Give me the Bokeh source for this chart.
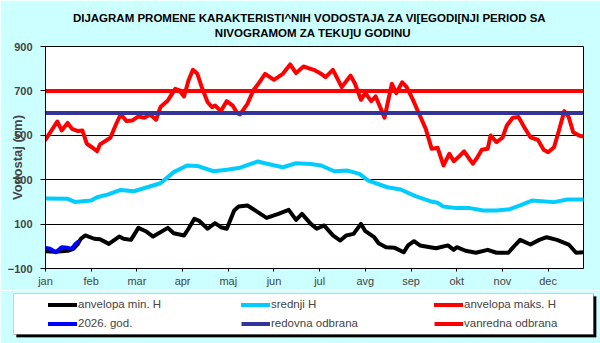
from bokeh.plotting import figure
from bokeh.layouts import column
from bokeh.models import FixedTicker, Legend, LegendItem, Range1d, LinearAxis, BoxAnnotation
from bokeh.embed import file_html
from bokeh.resources import INLINE

# ---- data (day of year, value in cm) ----
months = ["jan", "feb", "mar", "apr", "maj", "jun", "jul", "avg", "sep", "okt", "nov", "dec"]
month_ticks = [0, 31, 62, 93, 124, 155, 186, 217, 248, 279, 310, 341]
y_ticks = [-100, 100, 300, 500, 700, 900]

min_days = [0, 7, 15, 19, 22, 24, 27, 33, 37, 43,
            50, 53, 58, 63, 68, 73, 83, 87, 94, 97,
            101, 104, 110, 115, 119, 123, 128, 131, 137, 144,
            150, 158, 165, 170, 174, 180, 184, 189, 195, 200,
            204, 209, 214, 217, 223, 226, 231, 237, 243, 246,
            250, 254, 265, 273, 277, 279, 285, 292, 300, 306,
            314, 319, 322, 329, 335, 340, 347, 355, 360, 365]
min_vals = [-22, -25, -20, -11, 11, 34, 49, 34, 32, 11,
            44, 34, 29, 83, 68, 44, 83, 59, 49, 79,
            124, 116, 79, 104, 86, 79, 161, 179, 184, 154,
            128, 146, 164, 119, 146, 101, 79, 94, 49, 26,
            49, 56, 101, 68, 41, 14, -4, -7, -27, 4,
            23, 4, -9, 4, -16, -4, -20, -29, -16, -29,
            -29, 8, 29, 8, 29, 41, 29, 8, -29, -27]

mean_days = [0, 15, 20, 31, 35, 42, 51, 60, 69, 78,
             87, 96, 103, 114, 123, 132, 144, 151, 161, 170,
             180, 187, 196, 205, 213, 219, 232, 241, 251, 261,
             266, 270, 279, 288, 297, 306, 315, 322, 330, 345,
             354, 365]
mean_vals = [215, 214, 200, 206, 221, 233, 254, 248, 266, 284,
             334, 364, 362, 338, 345, 354, 382, 371, 356, 374,
             371, 364, 338, 341, 326, 296, 266, 256, 226, 203,
             196, 179, 172, 172, 161, 161, 167, 184, 206, 199,
             211, 211]

max_days = [0, 8, 11, 15, 18, 22, 25, 28, 32, 35,
            37, 44, 48, 51, 55, 59, 63, 67, 71, 75,
            78, 83, 88, 91, 94, 97, 100, 103, 106, 110,
            113, 115, 119, 123, 127, 130, 132, 137, 141, 146,
            149, 155, 161, 166, 170, 175, 182, 187, 190, 195,
            201, 207, 210, 214, 217, 221, 224, 227, 230, 233,
            235, 238, 242, 245, 249, 253, 258, 262, 266, 270,
            274, 277, 280, 284, 287, 290, 293, 296, 300, 302,
            306, 310, 313, 317, 321, 325, 329, 334, 338, 341,
            345, 348, 352, 355, 358, 362, 365]
max_vals = [480, 562, 522, 556, 529, 519, 522, 462, 444, 428,
            459, 489, 552, 594, 564, 567, 585, 579, 594, 570,
            627, 657, 709, 702, 675, 747, 795, 777, 717, 649,
            627, 634, 609, 654, 634, 600, 594, 642, 702, 747,
            777, 750, 777, 819, 780, 810, 795, 777, 762, 795,
            717, 769, 732, 660, 690, 654, 675, 627, 579, 672,
            732, 690, 739, 717, 664, 604, 529, 439, 444, 364,
            417, 383, 401, 428, 399, 372, 401, 435, 439, 499,
            469, 489, 544, 579, 582, 534, 491, 480, 435, 424,
            446, 514, 609, 582, 514, 499, 494]

cur_days = [0, 3, 7, 11, 15, 18, 20, 22]
cur_vals = [-7, -11, -27, -4, -7, -11, 8, 20]

year_span = [0, 365]
redovna = 600
vanredna = 700

series_labels = ["anvelopa min. H", "srednji H", "anvelopa maks. H",
                 "2026. god.", "redovna odbrana", "vanredna odbrana"]
series_colors = ["black", "#00CCFF", "#FF0000", "#0000FF", "#333399", "#FF0000"]

title_line1 = "DIJAGRAM PROMENE  KARAKTERISTI^NIH  VODOSTAJA ZA VI[EGODI[NJI PERIOD  SA"
title_line2 = "NIVOGRAMOM ZA TEKU]U  GODINU"

FONT = "Liberation Sans"
BG = "#CCFFFF"
lw = 4


def add_series(fig):
    rs = []
    rs.append(fig.line(min_days, min_vals, line_color=series_colors[0], line_width=lw, line_join="round", line_cap="round"))
    rs.append(fig.line(mean_days, mean_vals, line_color=series_colors[1], line_width=lw, line_join="round", line_cap="round"))
    rs.append(fig.line(max_days, max_vals, line_color=series_colors[2], line_width=lw, line_join="round", line_cap="round"))
    rs.append(fig.line(cur_days, cur_vals, line_color=series_colors[3], line_width=lw, line_join="round", line_cap="round"))
    rs.append(fig.line(year_span, [redovna, redovna], line_color=series_colors[4], line_width=lw))
    rs.append(fig.line(year_span, [vanredna, vanredna], line_color=series_colors[5], line_width=lw))
    return rs


# ---------------- main chart ----------------
p = figure(width=600, height=290, output_backend="svg", toolbar_location=None,
           x_range=Range1d(0, 365), y_range=Range1d(-100, 900),
           min_border_left=45, min_border_right=17, min_border_top=46, min_border_bottom=22,
           background_fill_color="white", border_fill_color=BG,
           outline_line_color="black", outline_line_width=1)

xax = p.below[0]
yax = p.left[0]

# title: line 2 as the label of an empty top axis, line 1 as the plot title
top_axis = LinearAxis(ticker=FixedTicker(ticks=[]), axis_line_color=None,
                      major_tick_line_color=None, minor_tick_line_color=None,
                      major_tick_out=0, major_tick_in=0,
                      axis_label=title_line2, axis_label_standoff=8,
                      axis_label_text_font=FONT, axis_label_text_font_size="11.5px",
                      axis_label_text_font_style="bold", axis_label_text_color="black")
p.add_layout(top_axis, "above")

p.title.text = title_line1
p.title.align = "center"
p.title.standoff = 0
p.title.text_font = FONT
p.title.text_font_size = "11.5px"
p.title.text_font_style = "bold"
p.title.text_color = "black"

xax.ticker = FixedTicker(ticks=month_ticks)
xax.major_label_overrides = {t: m for t, m in zip(month_ticks, months)}
xax.major_label_text_font = FONT
xax.major_label_text_font_size = "11px"
xax.major_label_standoff = 3
xax.major_tick_out = 3
xax.major_tick_in = 0
xax.minor_tick_line_color = None
xax.axis_line_color = "black"

yax.ticker = FixedTicker(ticks=y_ticks)
yax.major_label_text_font = FONT
yax.major_label_text_font_size = "11px"
yax.major_label_text_font_style = "bold"
yax.major_label_standoff = 8
yax.major_tick_out = 5
yax.major_tick_in = 0
yax.minor_tick_line_color = None
yax.axis_line_color = "black"
yax.axis_label = "Vodostaj (cm)"
yax.axis_label_text_font = FONT
yax.axis_label_text_font_size = "13px"
yax.axis_label_text_font_style = "bold"
yax.axis_label_standoff = -20

p.xgrid.grid_line_color = None
p.ygrid.ticker = FixedTicker(ticks=y_ticks)
p.ygrid.grid_line_color = "black"
p.ygrid.grid_line_width = 1

add_series(p)

# ---------------- legend strip (page pixels 290..343, y stored as -page_y) ----------------
lg = figure(width=600, height=53, output_backend="svg", toolbar_location=None,
            x_range=Range1d(13, 596), y_range=Range1d(-337, -293),
            min_border_left=13, min_border_right=4, min_border_top=3, min_border_bottom=6,
            background_fill_color=BG, border_fill_color=BG, outline_line_color=None)
lg.axis.visible = False
lg.grid.visible = False

lg.add_layout(BoxAnnotation(left=16, right=596, top=-296, bottom=-337,
                            fill_color="black", fill_alpha=1, line_color="black"))
lg.add_layout(BoxAnnotation(left=13, right=593, top=-293, bottom=-334,
                            fill_color="white", fill_alpha=1, line_color="black", line_width=1))

# same series (outside this strip's visible range) so the legend keys use their styles
legend_renderers = add_series(lg)
items = [LegendItem(label=lab, renderers=[r]) for lab, r in zip(series_labels, legend_renderers)]

legend = Legend(items=items, location=(35, 4.5), ncols=3, orientation="horizontal",
                border_line_alpha=0, background_fill_alpha=0,
                padding=0, margin=0, spacing=0,
                glyph_width=29, glyph_height=19, label_height=19, label_width=163, label_standoff=1,
                label_text_font=FONT, label_text_font_size="11.5px")
lg.add_layout(legend)

try:
    p.frame_align = False
    lg.frame_align = False
    roots = column(p, lg, spacing=0)
except AttributeError:
    roots = [p, lg]

open("out.html", "w").write(file_html(roots, INLINE))
